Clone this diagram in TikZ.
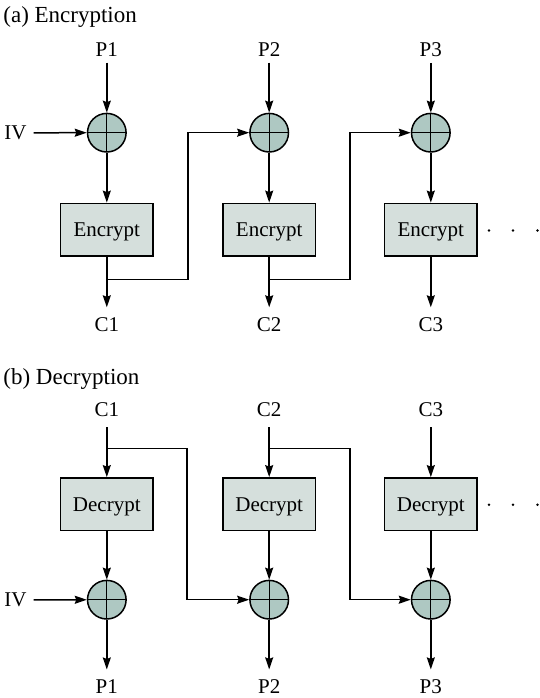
\documentclass[tikz,border=0pt]{standalone}
\usepackage{fontspec}
\setmainfont{Liberation Serif}
\usetikzlibrary{arrows.meta,calc}
\definecolor{xorfill}{HTML}{AEC8C2}
\definecolor{boxfill}{HTML}{D5DFDC}
\begin{document}
\begin{tikzpicture}[x=1pt,y=-1pt,
  lbl/.style={inner sep=0pt,outer sep=0pt,anchor=base,font=\fontsize{21}{25}\selectfont},
  ttl/.style={inner sep=0pt,outer sep=0pt,anchor=base west,font=\fontsize{23}{27}\selectfont},
  xorn/.style={circle,draw,line width=1.5pt,fill=xorfill,minimum size=38.6pt,inner sep=0pt,
    path picture={\draw[line width=1.2pt] (path picture bounding box.north) -- (path picture bounding box.south)
      (path picture bounding box.west) -- (path picture bounding box.east);}},
  blk/.style={rectangle,draw,line width=1.5pt,fill=boxfill,minimum width=92.5pt,minimum height=52.7pt,
    inner sep=0pt,text height=14pt,text depth=0pt,font=\fontsize{21}{25}\selectfont},
  arr/.style={line width=1.5pt,-{Stealth[length=12pt,width=8pt,inset=1.5pt]}},
  dotn/.style={circle,fill=black,inner sep=0pt,minimum size=2.8pt}]
\useasboundingbox (0,0) rectangle (539,698);

% ---------- (a) Encryption ----------
\node[ttl] (ta) at (3.4,22.7) {(a) Encryption};
\foreach \i/\x in {1/106.8,2/269.2,3/430.8}{
  \node[lbl] (pa\i) at (\x,56.7) {P\i};
  \node[xorn] (xa\i) at (\x,132.7) {};
  \node[blk] (ea\i) at (\x,229.7) {Encrypt};
  \node[lbl] (ca\i) at (\x,331.7) {C\i};
  \draw[arr,shorten <=6pt] (pa\i.south) -- (xa\i);
  \draw[arr] (xa\i) -- (ea\i);
  \draw[arr,shorten >=10.5pt] (ea\i) -- (ca\i.north);
}
\node[lbl] (iva) at (15.5,139.5) {IV};
\draw[arr,shorten <=7pt] (iva.east) -- (xa1);
\coordinate (ja1) at (106.8,279.3);
\coordinate (ka1) at (187.8,279.3);
\coordinate (ja2) at (269.2,279.3);
\coordinate (ka2) at (350.2,279.3);
\draw[arr] (ja1) -- (ka1) |- (xa2);
\draw[arr] (ja2) -- (ka2) |- (xa3);
\node[dotn] (da1) at (489,230.5) {};
\node[dotn] (da2) at (513,230.5) {};
\node[dotn] (da3) at (537.5,230.5) {};

% ---------- (b) Decryption ----------
\node[ttl] (tb) at (3.4,384.3) {(b) Decryption};
\foreach \i/\x in {1/106.8,2/269.2,3/430.8}{
  \node[lbl] (cb\i) at (\x,416.3) {C\i};
  \node[blk] (db\i) at (\x,504.2) {Decrypt};
  \node[xorn] (xb\i) at (\x,599.7) {};
  \node[lbl] (pb\i) at (\x,693.3) {P\i};
  \draw[arr,shorten <=10.5pt] (cb\i.south) -- (db\i);
  \draw[arr] (db\i) -- (xb\i);
  \draw[arr,shorten >=10pt] (xb\i) -- (pb\i.north);
}
\node[lbl] (ivb) at (15.5,606.6) {IV};
\draw[arr,shorten <=7pt] (ivb.east) -- (xb1);
\coordinate (jb1) at (106.8,448.3);
\coordinate (kb1) at (187.2,448.3);
\coordinate (jb2) at (269.2,448.3);
\coordinate (kb2) at (349.8,448.3);
\draw[arr] (jb1) -- (kb1) |- (xb2);
\draw[arr] (jb2) -- (kb2) |- (xb3);
\node[dotn] (db4) at (489,504.7) {};
\node[dotn] (db5) at (513,504.7) {};
\node[dotn] (db6) at (537.5,504.7) {};
\end{tikzpicture}
\end{document}
